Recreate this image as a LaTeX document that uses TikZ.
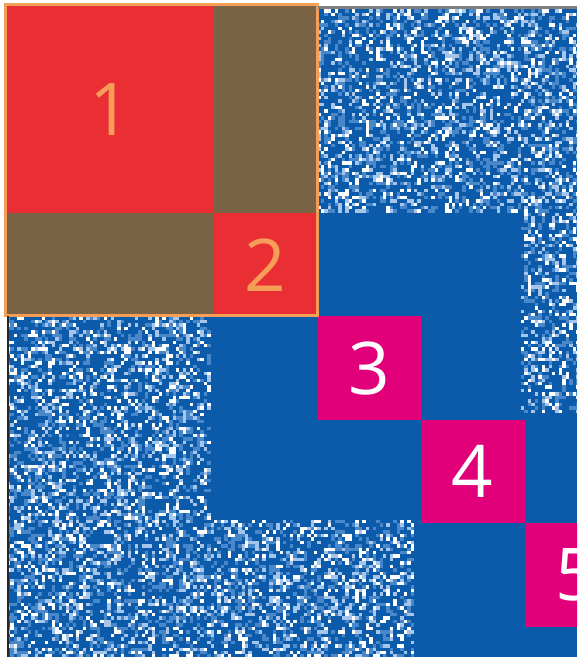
\documentclass[tikz,border=0pt]{standalone}
\usepackage{fontspec}
\newfontfamily\blockfont{Open Sans}
\definecolor{matblue}{RGB}{12,91,171}
\definecolor{noisemid}{RGB}{72,136,202}
\definecolor{noiselight}{RGB}{165,198,234}
\definecolor{blockred}{RGB}{233,47,51}
\definecolor{coupling}{RGB}{122,99,68}
\definecolor{diagpink}{RGB}{226,0,122}
\definecolor{frameorange}{RGB}{246,158,88}
\usetikzlibrary{positioning}

\tikzset{
  blocknode/.style={inner sep=0pt, minimum size=1cm, draw=none,
    font=\blockfont\fontsize{20}{24}\selectfont},
}

% random speckle over cells #1..#2 (x) and #3..#4 (rows), one cell = 1/30
\newcommand{\noisepatch}[4]{%
  \foreach \i in {#1,...,#2}{%
    \foreach \j in {#3,...,#4}{%
      \pgfmathrandominteger{\k}{0}{99}%
      \ifnum\k<13 \fill[white] (\i,-\j) rectangle ++(1,-1);%
      \else\ifnum\k<25 \fill[noiselight] (\i,-\j) rectangle ++(1,-1);%
      \else\ifnum\k<45 \fill[noisemid] (\i,-\j) rectangle ++(1,-1);%
      \fi\fi\fi
    }}}

\begin{document}
\begin{tikzpicture}
        \clip (-0.068,0.058) rectangle (5.507,-6.29);
        \fill[white] (-0.068,0.058) rectangle (5.507,-6.29);
        \fill[matblue] (0,0) rectangle (5.507,-6.29);
        \pgfmathsetseed{7}
        \begin{scope}[scale=1/30]
          \noisepatch{90}{165}{0}{59}
          \noisepatch{149}{165}{60}{117}
          \noisepatch{0}{58}{90}{188}
          \noisepatch{59}{117}{149}{188}
        \end{scope}
        % off-diagonal coupling of the first two blocks
        \fill[coupling] (2,0) rectangle (3,-2);
        \fill[coupling] (0,-2) rectangle (2,-3);
        \node[blocknode, fill=blockred, text=frameorange, minimum size=2cm] (blk1) at (1,-1) {1};
        \node[blocknode, fill=blockred, text=frameorange] (blk2) at (2.5,-2.5) {2};
        \node[blocknode, fill=diagpink, text=white] (blk3) at (3.5,-3.5) {3};
        \node[blocknode, fill=diagpink, text=white] (blk4) at (4.5,-4.5) {4};
        \node[blocknode, fill=diagpink, text=white] (blk5) at (5.5,-5.5) {5};
        \draw[frameorange, line width=0.8pt] (-0.012,0.012) rectangle (3,-2.99);
        \draw[gray, line width=0.9pt] (3,-0.015) -- (5.507,-0.015);
        \draw[black!85, line width=0.6pt] (0.01,-3) -- (0.01,-6.29);
\end{tikzpicture}
\end{document}
